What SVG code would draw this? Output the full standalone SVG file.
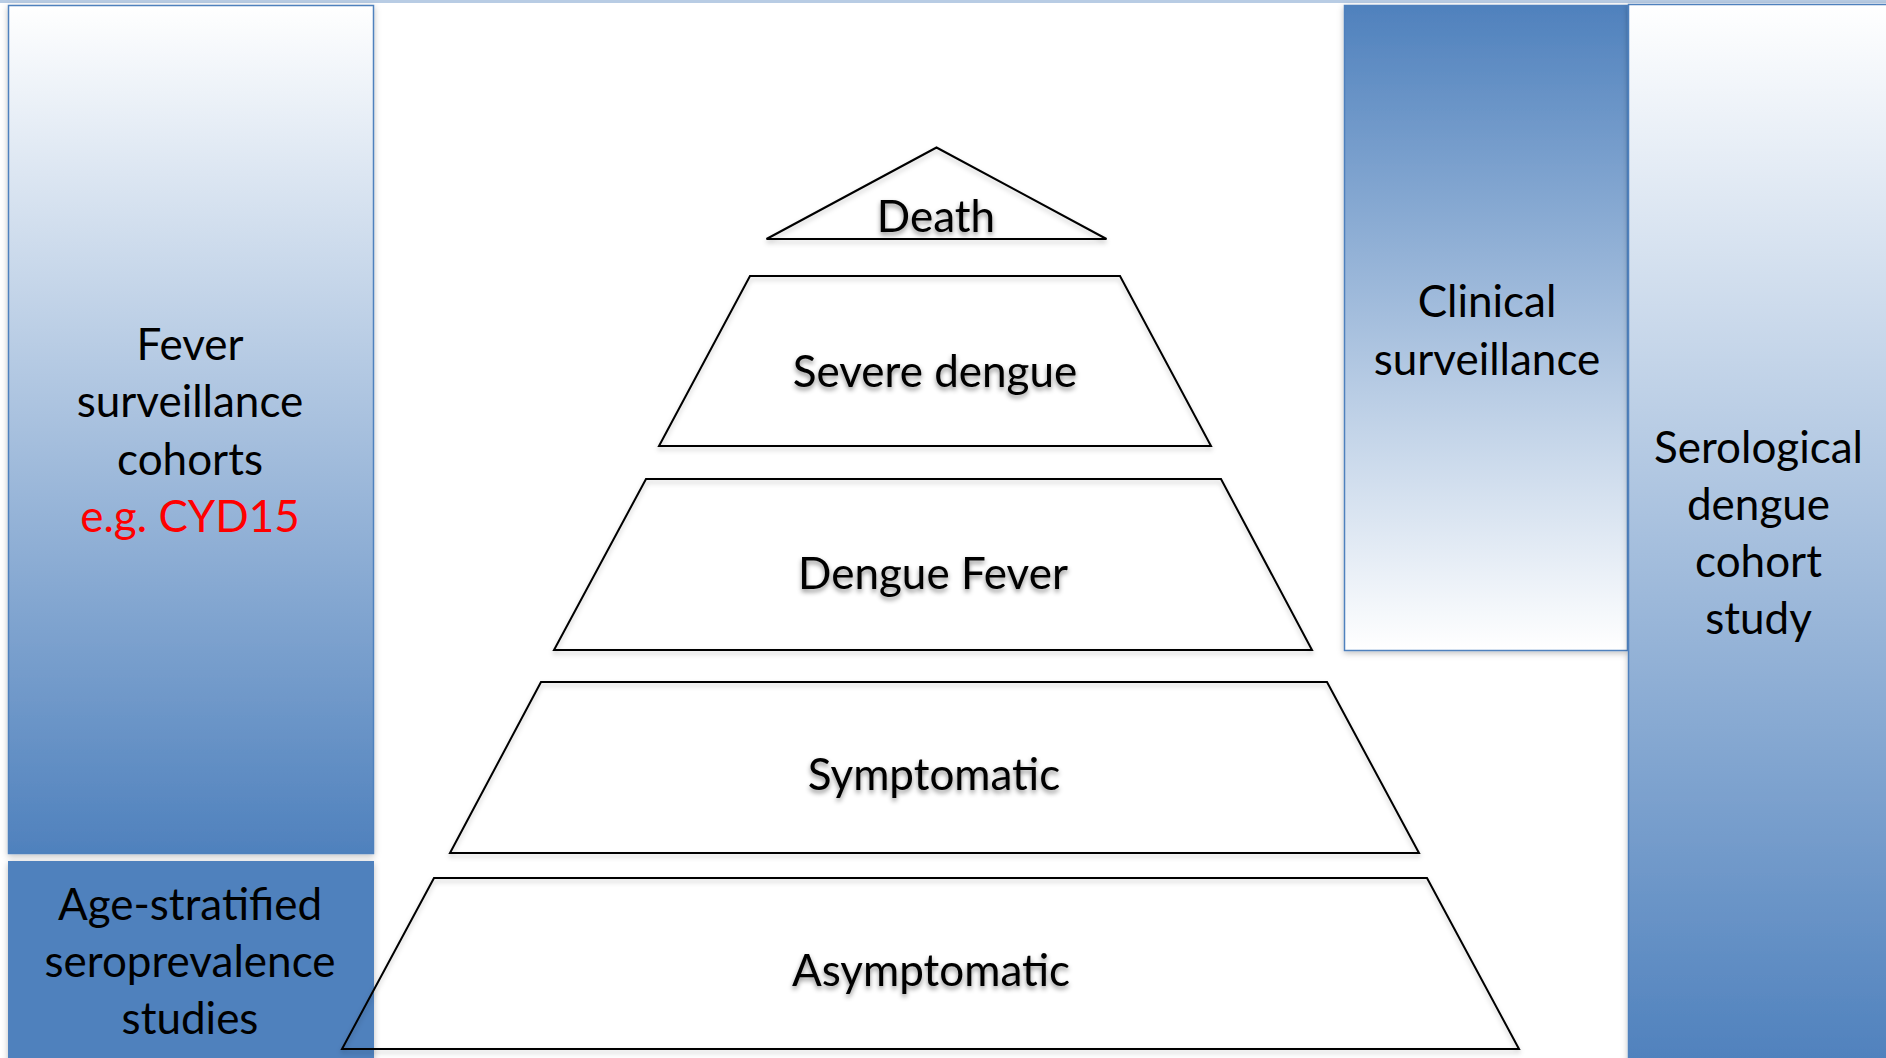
<svg xmlns="http://www.w3.org/2000/svg" width="1886" height="1058" viewBox="0 0 1886 1058">
<style>
  .lbl { font-family: Lato, "Liberation Sans", sans-serif; font-size: 44px; fill: #000; text-anchor: middle; }
  .red { fill: #ff0000; }
  .tier { fill: none; stroke: #000; stroke-width: 2; stroke-linejoin: miter; }
  .box { stroke: #4f81bd; stroke-width: 1.5; }
</style>
<defs>
  <linearGradient id="gDown" x1="0" y1="0" x2="0" y2="1">
    <stop offset="0" stop-color="#ffffff"/>
    <stop offset="0.5" stop-color="#a7c0de"/>
    <stop offset="1" stop-color="#4f81bd"/>
  </linearGradient>
  <linearGradient id="gUp" x1="0" y1="0" x2="0" y2="1">
    <stop offset="0" stop-color="#4f81bd"/>
    <stop offset="0.5" stop-color="#a7c0de"/>
    <stop offset="1" stop-color="#ffffff"/>
  </linearGradient>
  <filter id="boxShadow" x="-10%" y="-10%" width="120%" height="120%">
    <feDropShadow dx="0" dy="2" stdDeviation="3" flood-color="#000" flood-opacity="0.25"/>
  </filter>
  <filter id="tierShadow" x="-10%" y="-10%" width="120%" height="130%">
    <feDropShadow dx="0" dy="3" stdDeviation="2.5" flood-color="#000" flood-opacity="0.22"/>
  </filter>
  <filter id="textShadow" x="-10%" y="-20%" width="120%" height="160%">
    <feDropShadow dx="0" dy="3" stdDeviation="2.5" flood-color="#000" flood-opacity="0.45"/>
  </filter>
</defs>

<rect x="0" y="0" width="1886" height="1058" fill="#ffffff"/>
<rect x="0" y="0" width="1886" height="3" fill="#b8cce4"/>

<g id="fever-surveillance">
  <rect class="box" x="8.5" y="5.5" width="365" height="848" fill="url(#gDown)" filter="url(#boxShadow)"/>
  <text class="lbl" x="190" y="359.5">Fever</text>
  <text class="lbl" x="190" y="417">surveillance</text>
  <text class="lbl" x="190" y="474.5">cohorts</text>
  <text class="lbl red" x="190" y="532">e.g. CYD15</text>
</g>

<g id="seroprevalence">
  <rect x="8" y="861" width="366" height="200" fill="#4f81bd" filter="url(#boxShadow)"/>
  <text class="lbl" x="190" y="920">Age-stratified</text>
  <text class="lbl" x="190" y="977">seroprevalence</text>
  <text class="lbl" x="190" y="1034">studies</text>
</g>

<g id="clinical-surveillance">
  <rect class="box" x="1344.5" y="5.5" width="283" height="645" fill="url(#gUp)" filter="url(#boxShadow)"/>
  <text class="lbl" x="1487" y="317">Clinical</text>
  <text class="lbl" x="1487" y="374.5">surveillance</text>
</g>

<g id="serological-cohort">
  <rect class="box" x="1628.5" y="4.5" width="262" height="1060" fill="url(#gDown)" filter="url(#boxShadow)"/>
  <text class="lbl" x="1758.5" y="463">Serological</text>
  <text class="lbl" x="1758.5" y="520">dengue</text>
  <text class="lbl" x="1758.5" y="577">cohort</text>
  <text class="lbl" x="1758.5" y="634">study</text>
</g>

<g id="death">
  <polygon class="tier" points="936.5,147.5 1106.5,239 766.5,239" filter="url(#tierShadow)"/>
  <text class="lbl" x="936" y="232" filter="url(#textShadow)">Death</text>
</g>

<g id="severe-dengue">
  <polygon class="tier" points="750,276 1120,276 1211,446 659,446" filter="url(#tierShadow)"/>
  <text class="lbl" x="935" y="387" filter="url(#textShadow)">Severe dengue</text>
</g>

<g id="dengue-fever">
  <polygon class="tier" points="646,479 1221,479 1312,650 554,650" filter="url(#tierShadow)"/>
  <text class="lbl" x="933" y="589" filter="url(#textShadow)">Dengue Fever</text>
</g>

<g id="symptomatic">
  <polygon class="tier" points="541,682 1327,682 1419,853 450,853" filter="url(#tierShadow)"/>
  <text class="lbl" x="934" y="790" filter="url(#textShadow)">Symptomatic</text>
</g>

<g id="asymptomatic">
  <polygon class="tier" points="434,878 1427,878 1519,1049 342,1049" filter="url(#tierShadow)"/>
  <text class="lbl" x="931" y="986" filter="url(#textShadow)">Asymptomatic</text>
</g>

<g id="connectors"></g>
</svg>
